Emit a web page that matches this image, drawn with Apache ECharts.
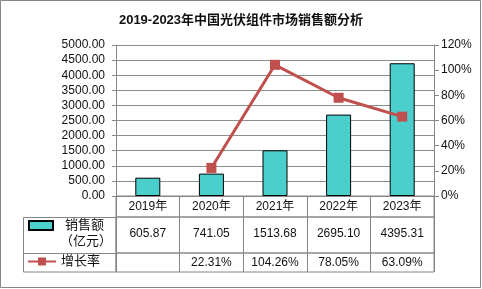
<!DOCTYPE html>
<html><head><meta charset="utf-8">
<script src="https://cdn.jsdelivr.net/npm/echarts@6/dist/echarts.min.js"></script>
<style>html,body{margin:0;padding:0;background:#fff}#c{width:482px;height:289px}</style>
</head><body><div id="c"></div>
<script>
const titleText = '2019-2023年中国光伏组件市场销售额分析';
const years = ['2019年', '2020年', '2021年', '2022年', '2023年'];
const sales = [605.87, 741.05, 1513.68, 2695.10, 4395.31];
const growth = [null, 22.31, 104.26, 78.05, 63.09];
const salesName = '销售额';
const salesUnit = '（亿元）';
const growthName = '增长率';

const FF = "'Liberation Sans','Noto Sans CJK SC',sans-serif";
const GRAY = '#868686';
const chart = echarts.init(document.getElementById('c'), null, {renderer: 'canvas'});

function rowAxis(gi, h, fmt) {
  return {
    gridIndex: gi, type: 'category', data: years, position: 'bottom',
    axisLine: {show: false}, axisTick: {show: false},
    splitLine: {show: true, interval: 0, lineStyle: {color: GRAY, width: 1}},
    axisLabel: {interval: 0, margin: -h / 2, verticalAlign: 'middle', fontSize: 12, color: '#111', fontFamily: FF, formatter: fmt}
  };
}

chart.setOption({
  animation: false,
  backgroundColor: '#fff',
  title: {text: titleText, left: 'center', top: 9, textStyle: {fontSize: 13, fontWeight: 'bold', color: '#111', fontFamily: FF}},
  legend: [
    {data: [{name: salesName, icon: 'rect'}], left: 28, top: 219, padding: 0, itemWidth: 24, itemHeight: 9, selectedMode: false,
     textStyle: {fontSize: 13, color: '#111', fontFamily: FF, padding: [0, 0, 0, 7]}},
    {data: [growthName], left: 27, top: 255, padding: 0, itemWidth: 28, itemHeight: 10, selectedMode: false,
     textStyle: {fontSize: 13, color: '#111', fontFamily: FF, padding: [0, 0, 0, 0]}}
  ],
  grid: [
    {left: 116, top: 45, width: 318, height: 151, show: false},
    {left: 116, top: 196, width: 318, height: 21, show: true, borderColor: GRAY, borderWidth: 1},
    {left: 116, top: 217, width: 318, height: 36, show: true, borderColor: GRAY, borderWidth: 1},
    {left: 116, top: 253, width: 318, height: 19, show: true, borderColor: GRAY, borderWidth: 1}
  ],
  xAxis: [
    {gridIndex: 0, type: 'category', data: years, axisLine: {show: true, lineStyle: {color: GRAY, width: 1}}, axisTick: {show: false}, axisLabel: {show: false}},
    rowAxis(1, 21, v => v),
    rowAxis(2, 38, (v, i) => sales[i].toFixed(2)),
    rowAxis(3, 19, (v, i) => growth[i] == null ? '' : growth[i].toFixed(2) + '%')
  ],
  yAxis: [
    {gridIndex: 0, type: 'value', min: 0, max: 5000, interval: 500,
     axisLine: {show: true, lineStyle: {color: GRAY}}, axisTick: {show: true, length: 4, lineStyle: {color: GRAY}},
     splitLine: {lineStyle: {color: '#879087', width: 1}},
     axisLabel: {margin: 11, fontSize: 12, color: '#111', fontFamily: FF, formatter: v => v.toFixed(2)}},
    {gridIndex: 0, type: 'value', position: 'right', min: 0, max: 120, interval: 20,
     axisLine: {show: true, lineStyle: {color: GRAY}}, axisTick: {show: true, length: 5, lineStyle: {color: GRAY}},
     splitLine: {show: false},
     axisLabel: {margin: 7, fontSize: 12, color: '#111', fontFamily: FF, formatter: v => v + '%'}},
    {gridIndex: 1, type: 'value', show: false},
    {gridIndex: 2, type: 'value', show: false},
    {gridIndex: 3, type: 'value', show: false}
  ],
  series: [
    {name: salesName, type: 'bar', xAxisIndex: 0, yAxisIndex: 0, data: sales, barWidth: 25,
     itemStyle: {color: '#4BCFCD', borderColor: '#000', borderWidth: 1}},
    {name: growthName, type: 'line', xAxisIndex: 0, yAxisIndex: 1, data: growth, connectNulls: false,
     symbol: 'rect', symbolSize: 10, lineStyle: {color: '#C0504D', width: 3}, itemStyle: {color: '#C0504D'}}
  ],
  graphic: [
    {type: 'rect', silent: true, shape: {x: 0.5, y: 0.5, width: 480, height: 287}, style: {fill: 'none', stroke: GRAY, lineWidth: 1}},
    {type: 'rect', silent: true, shape: {x: 23.5, y: 217.5, width: 92.5, height: 54.5}, style: {fill: 'none', stroke: GRAY, lineWidth: 1}},
    {type: 'line', silent: true, shape: {x1: 23.5, y1: 253.5, x2: 116, y2: 253.5}, style: {stroke: GRAY, lineWidth: 1}},
    {type: 'text', silent: true, left: 60, top: 235, style: {text: salesUnit, fontSize: 13, fill: '#111', fontFamily: FF}}
  ]
});
</script></body></html>
